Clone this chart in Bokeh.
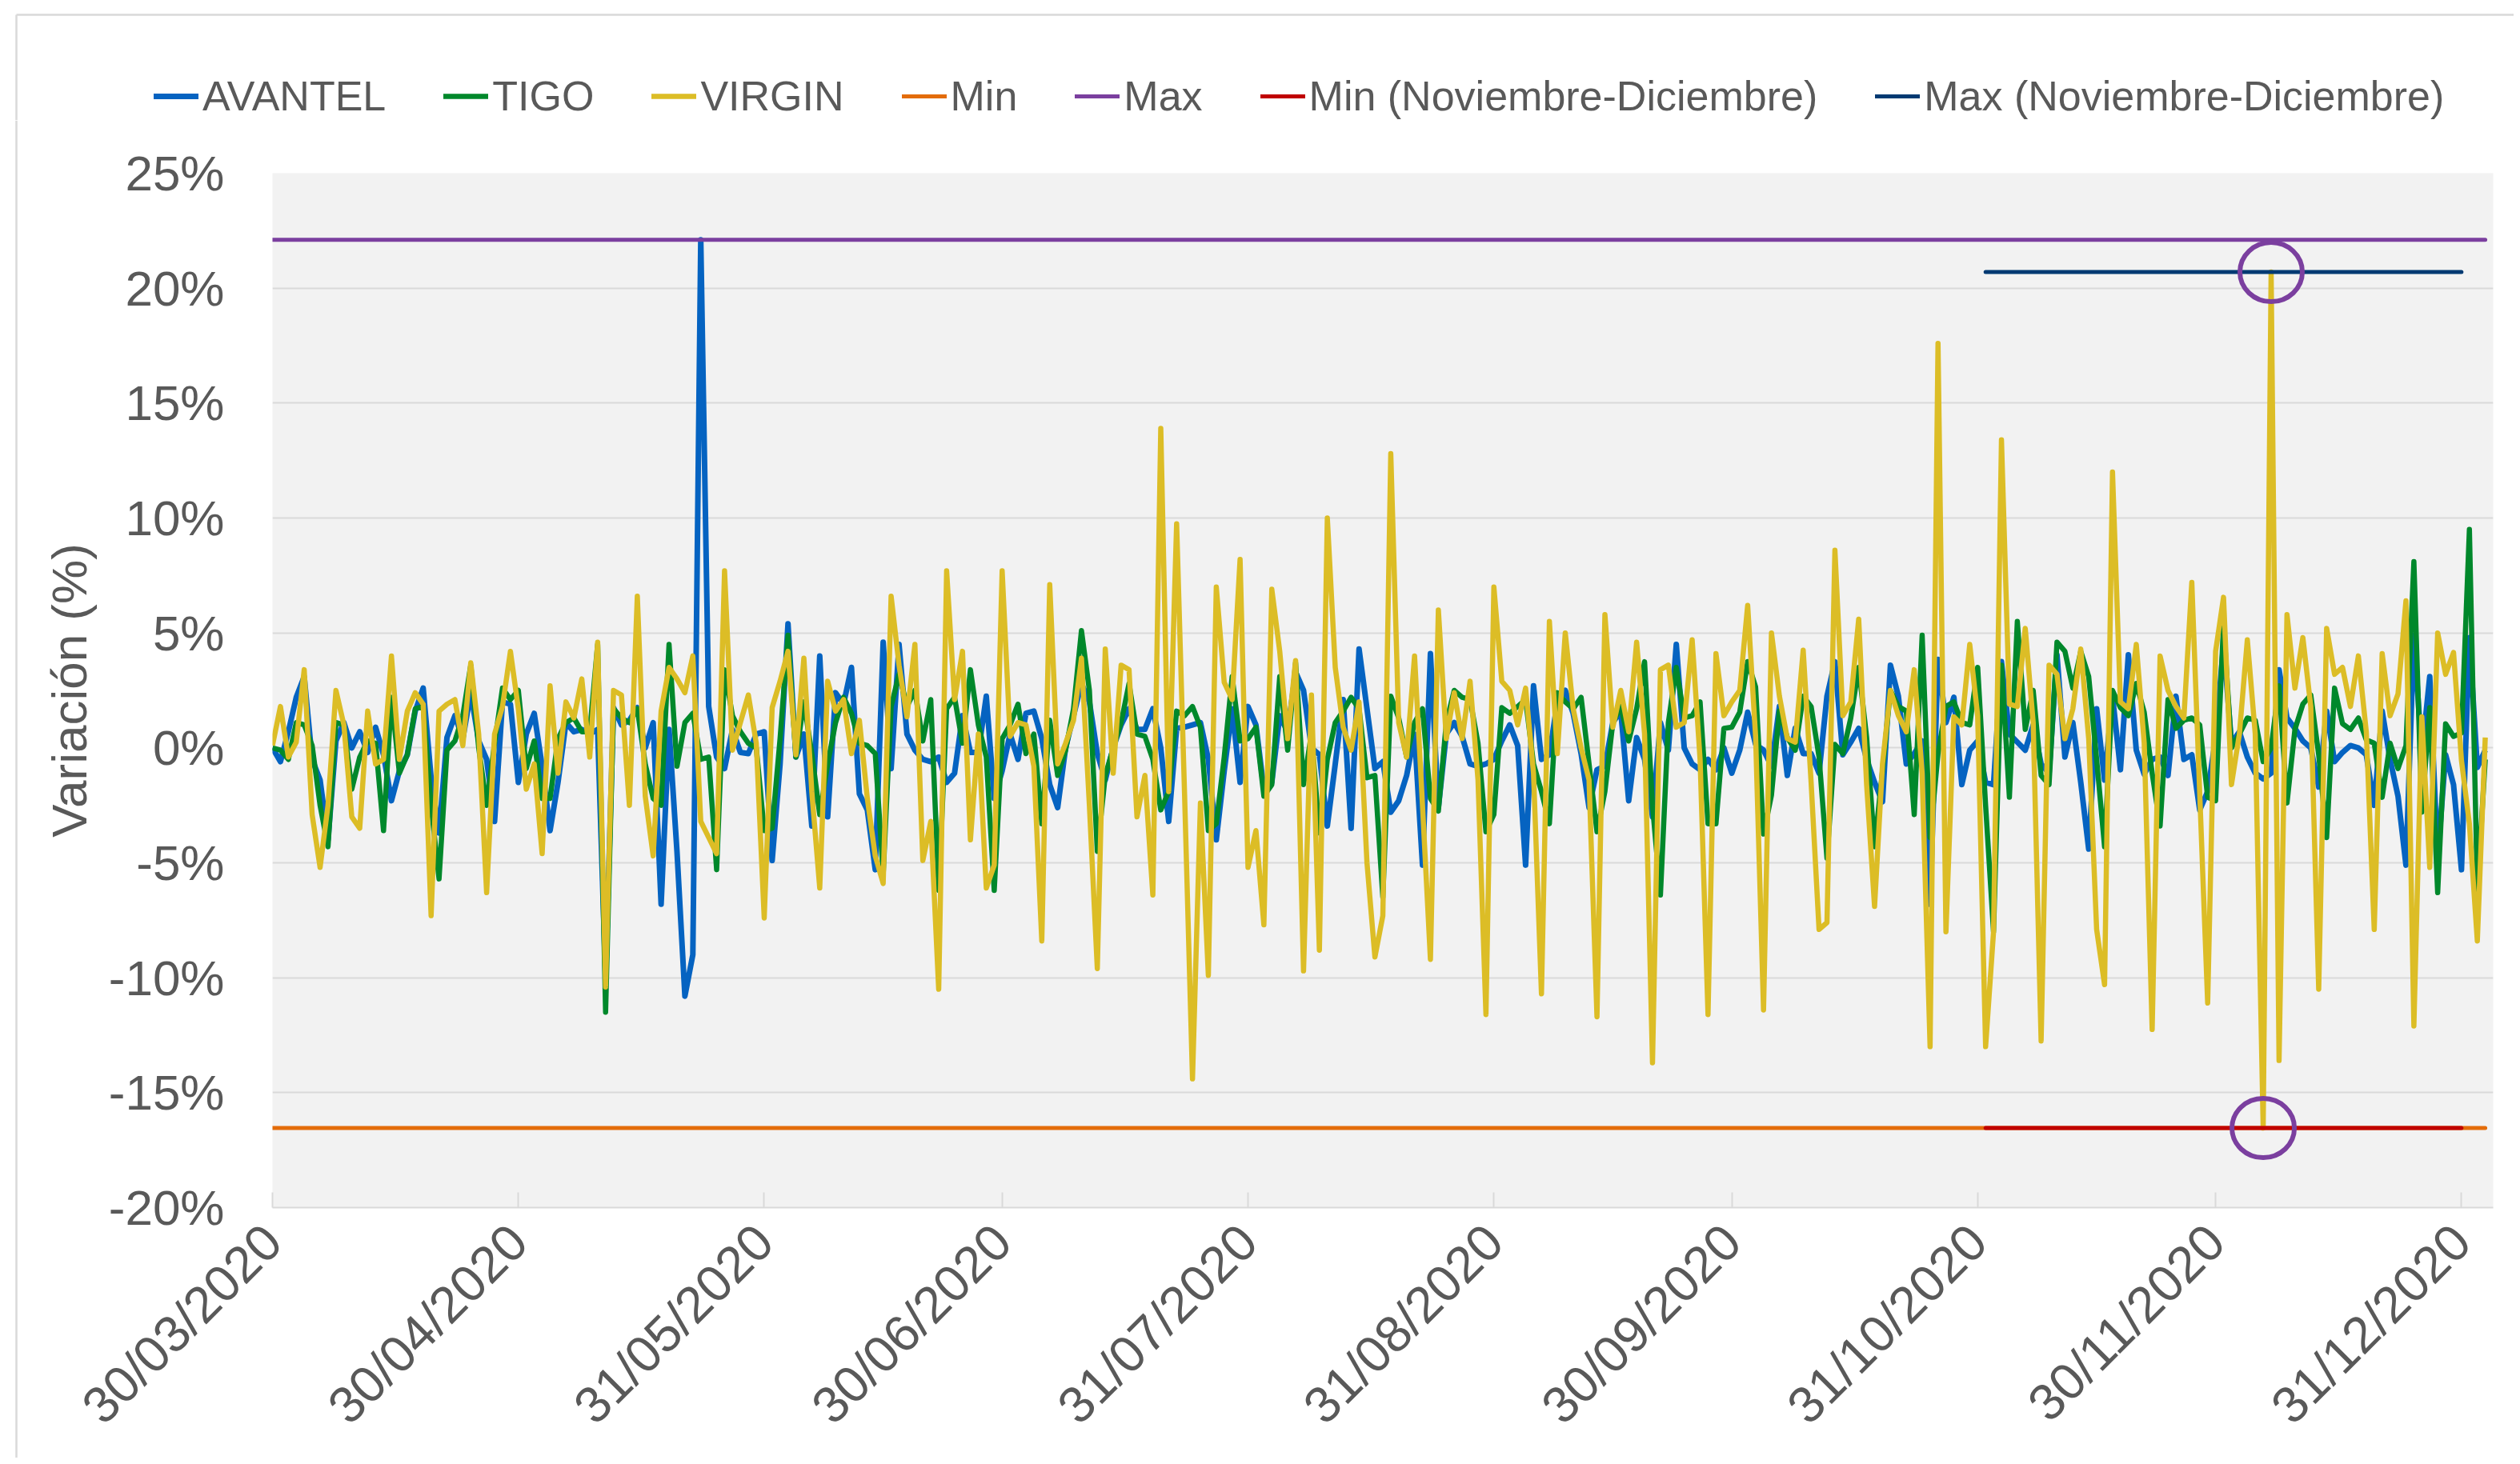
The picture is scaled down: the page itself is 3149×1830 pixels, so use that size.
import math
import datetime as dt
from bokeh.plotting import figure
from bokeh.layouts import column, row
from bokeh.models import Range1d, FixedTicker, PrintfTickFormatter, Legend, LegendItem
from bokeh.embed import file_html
from bokeh.resources import INLINE

# ---------------- data (daily variation, %) ----------------
start_date = dt.date(2020, 3, 30)

avantel = [
    0, -0.6, 0.7, 2.2, 3.1, -0.5, -1.4, -4.0, 0.3, 1.1,
    0, 0.7, -0.2, 0.9, -0.3, -2.3, -1.0, -0.3, 1.6, 2.6,
    -1.3, -3.7, 0.45, 1.4, 0.4, 2.4, 0.3, -0.5, -3.2, 2.0,
    1.9, -1.5, 0.6, 1.5, -0.8, -3.6, -1.5, 1.1, 0.7, 0.8,
    0.6, 0.8, -10.0, 1.75, 1.0, 1.2, 1.75, 0, 1.1, -6.8,
    0.8, -4.5, -10.8, -9.0, 22.1, 1.8, -0.4, -0.9, 0.8, -0.2,
    -0.25, 0.6, 0.7, -4.9, -0.7, 5.4, -0.4, 0.6, -3.4, 4.0,
    -3.0, 2.4, 1.9, 3.5, -2.0, -2.7, -5.3, 4.6, -0.9, 4.5,
    0.6, -0.1, -0.5, -0.6, -0.4, -1.5, -1.1, 1.4, -0.2, -0.2,
    2.25, -2.2, -1.0, 0.6, -0.5, 1.5, 1.6, 0.4, -1.6, -2.6,
    0, 1.4, 2.8, 2.0, -0.25, -1.4, 0, 1.0, 1.7, 0.8,
    0.8, 1.7, 0, -3.2, 0.85, 0.9, 1.0, 1.1, -0.5, -4.0,
    -1.0, 1.7, -1.5, 1.8, 1.0, -1.8, -1.5, 1.4, 0.7, 3.3,
    2.5, 0, -0.3, -3.4, -0.7, 2.1, -3.5, 4.3, 1.7, -0.9,
    -0.6, -2.8, -2.3, -1.2, 0.6, -5.1, 4.1, -2.6, 0.6, 1.1,
    0.5, -0.7, -0.8, -0.7, -0.5, 0.3, 1.0, 0.1, -5.1, 2.7,
    -0.5, -0.3, 2.0, 2.5, 1.5, -0.25, -2.6, -0.95, -0.8, 1.1,
    1.6, -2.3, 0.45, -0.5, -3.0, 1.1, -0.1, 4.5, 0, -0.7,
    -0.95, -0.5, -0.95, 0, -1.1, -0.1, 1.55, 0.15, -0.1, -0.8,
    1.8, -1.2, 0.85, -0.25, -0.25, -1.1, 2.25, 3.75, -0.3, 0.25,
    0.85, -0.5, -1.5, -2.35, 3.6, 2.25, -0.7, -0.25, 0.3, -6.8,
    3.85, 1.1, 2.2, -1.6, -0.1, 0.3, -1.5, -1.6, 3.75, 0.6,
    0.25, -0.1, 1.0, -0.7, -1.1, 4.05, -0.4, 1.1, -1.5, -4.4,
    1.7, -1.4, 2.25, -0.95, 4.05, -0.1, -1.15, -0.5, -0.4, -1.2,
    2.25, -0.5, -0.3, -2.7, -1.9, 0.4, 4.5, 0.2, 0.7, -0.4,
    -1.1, -1.35, -1.1, 3.4, 1.3, 0.85, 0.3, 0, -1.7, 1.6,
    -0.6, -0.2, 0.1, 0, -0.3, -2.5, 1.6, -0.5, -2.1, -5.1,
    4.9, -0.3, 3.1, -4.8, -0.3, -1.6, -5.3, 4.8, -0.85, -0.1,
]

tigo = [
    0, -0.1, -0.5, 1.1, 1.0, 0.1, -2.5, -4.3, 1.1, 1.0,
    -1.8, -0.4, 0.3, 0.2, -3.6, 2.2, -1.1, -0.3, 1.7, 1.8,
    -2.5, -5.7, -0.1, 0.3, 1.4, 3.6, 0, -2.5, 0.2, 2.6,
    2.1, 2.5, -0.9, 0.3, -2.2, -2.2, 0.4, 1.1, 1.3, 0.7,
    0.7, 4.5, -11.5, 1.7, 1.3, 1.1, 1.7, -0.7, -2.2, -2.5,
    4.5, -0.8, 1.1, 1.5, -0.5, -0.4, -5.3, 3.4, 1.4, 0.7,
    0.2, 0, -3.6, -3.5, 0.4, 4.9, -0.4, 2.0, -0.25, -2.9,
    -0.7, 1.1, 2.2, 1.5, 0.2, 0.1, -0.25, -5.5, 1.8, 3.2,
    1.8, 2.5, 0.3, 2.1, -6.2, 1.7, 2.2, 0.2, 3.4, 1.0,
    -0.4, -6.2, 0.4, 1.0, 1.9, -0.25, 0.6, -3.3, 1.2, -1.2,
    -0.1, 1.7, 5.1, 2.5, -4.5, -1.2, 0, 1.1, 2.8, 0.6,
    0.5, -0.5, -2.7, -1.9, 1.6, 1.4, 1.8, 0.9, -3.6, -3.3,
    -0.4, 3.1, 0.3, 0.4, 0.9, -2.1, -1.6, 3.1, -0.1, 3.7,
    -1.6, 0.6, -3.7, -0.5, 1.1, 1.6, 2.2, 1.7, -1.3, -1.2,
    -6.5, 2.25, 1.3, -0.4, 1.1, 1.7, -2.2, -2.75, 1.1, 2.5,
    2.2, 2.1, 0.2, -3.65, -2.9, 1.75, 1.5, 1.8, 2.1, -0.7,
    -1.9, -3.3, 2.4, 2.0, 1.7, 2.2, -0.7, -3.65, -1.9, 1.1,
    1.8, 0.3, 1.7, 3.75, -2.5, -6.4, 1.1, 3.5, 1.3, 1.4,
    2.0, -3.3, -3.3, 0.85, 0.9, 1.55, 3.75, 2.65, -3.75, -2.05,
    1.6, 0.45, -0.1, 2.25, 1.8, -0.4, -4.8, 0.15, -0.25, 1.3,
    3.5, 0.45, -4.3, -1.0, 2.5, 1.8, 1.6, -2.9, 4.9, -3.9,
    -0.25, 1.8, 2.0, 1.1, 1.0, 3.5, -2.5, -8.0, 3.6, -2.15,
    5.5, 0.8, 2.5, -1.2, -1.6, 4.6, 4.2, 2.6, 4.2, 3.1,
    -0.5, -4.3, 2.5, 1.75, 1.4, 2.8, 1.55, -1.1, -3.4, 2.1,
    0.85, 1.2, 1.3, 1.0, -2.15, -2.3, 5.4, 0, 0.6, 1.3,
    1.2, -0.6, 0, 2.7, -2.4, 0.8, 1.9, 2.3, -0.3, -3.9,
    2.6, 1.05, 0.8, 1.3, 0.35, 0.2, -2.15, 0.2, -0.9, 0.1,
    8.1, -2.8, 1.75, -6.3, 1.05, 0.5, 0.65, 9.5, -6.2, -0.5,
]

virgin = [
    0.1, 1.8, -0.4, 0.25, 3.4, -2.9, -5.2, -2.5, 2.5, 1.0,
    -3.0, -3.5, 1.6, -0.7, -0.5, 4.0, -0.5, 1.6, 2.4, 1.9,
    -7.3, 1.6, 1.9, 2.1, 0.1, 3.7, 0.6, -6.3, 0.6, 1.8,
    4.2, 1.7, -1.8, -0.7, -4.6, 2.7, -1.1, 2.0, 1.3, 3.0,
    -0.4, 4.6, -10.4, 2.5, 2.3, -2.5, 6.6, -2.1, -4.7, 1.6,
    3.5, 3.0, 2.4, 4.0, -3.2, -3.9, -4.6, 7.7, -0.1, 1.1,
    2.3, 0.2, -7.4, 1.75, 2.9, 4.2, -0.3, 3.9, -1.9, -6.1,
    2.9, 1.6, 2.1, -0.25, 1.2, -2.2, -4.7, -5.9, 6.6, 3.6,
    1.35, 4.5, -4.9, -3.2, -10.5, 7.7, 2.1, 4.2, -4.0, 0.6,
    -6.1, -5.1, 7.7, 0.5, 1.1, 1.0, -0.8, -8.4, 7.1, -0.7,
    0.2, 1.2, 3.9, -2.5, -9.6, 4.3, -1.1, 3.6, 3.4, -3.0,
    -1.2, -6.4, 13.9, -1.9, 9.75, -2.0, -14.4, -2.4, -9.9, 7.0,
    2.85, 2.1, 8.2, -5.2, -3.6, -7.7, 6.9, 4.2, 0.4, 3.8,
    -9.7, 2.3, -8.8, 10.0, 3.5, 0.9, -0.1, 2.0, -5.0, -9.1,
    -7.3, 12.8, 1.1, -0.4, 4.0, -2.5, -9.2, 6.0, 0.4, 2.4,
    0.4, 2.9, -1.4, -11.6, 7.0, 2.9, 2.5, 1.0, 2.6, -1.1,
    -10.7, 5.5, -0.25, 5.0, 1.7, 0.0, -1.4, -11.7, 5.8, 0.9,
    2.5, 0.7, 4.6, 0.6, -13.7, 3.4, 3.6, 0.9, 1.1, 4.7,
    -0.5, -11.6, 4.1, 1.4, 2.0, 2.5, 6.2, 0.5, -11.4, 5.0,
    2.25, 0.4, 0.25, 4.25, -1.5, -7.9, -7.6, 8.6, 1.4, 2.0,
    5.6, -1.6, -6.9, -0.7, 2.5, 1.4, 0.7, 3.4, -1.1, -13.0,
    17.6, -8.0, 1.35, 1.0, 4.5, 1.4, -13.0, -8.0, 13.4, 1.9,
    1.8, 5.2, 1.1, -12.75, 3.6, 3.2, 0.4, 1.7, 4.3, 0.4,
    -7.9, -10.3, 12.0, 2.0, 1.7, 4.5, 0.2, -12.25, 4.0, 2.5,
    1.8, 1.3, 7.2, -2.0, -11.1, 4.2, 6.55, -1.6, 0.6, 4.7,
    0.6, -16.54, 20.7, -13.6, 5.8, 2.6, 4.8, 1.8, -10.5, 5.2,
    3.2, 3.5, 1.8, 4.0, 0.7, -7.9, 4.1, 1.4, 2.35, 6.4,
    -12.1, 1.35, -5.2, 5.0, 3.2, 4.15, -0.55, -3.3, -8.4, 0.45,
]

series_names = ["AVANTEL", "TIGO", "VIRGIN"]
series_colors = ["#0563C1", "#00882B", "#DCBD26"]
ref_names = ["Min", "Max", "Min (Noviembre-Diciembre)", "Max (Noviembre-Diciembre)"]
ref_colors = ["#E36C0A", "#7B3F9F", "#C00000", "#003A72"]

tick_labels = ["30/03/2020", "30/04/2020", "31/05/2020", "30/06/2020", "31/07/2020",
               "31/08/2020", "30/09/2020", "31/10/2020", "30/11/2020", "31/12/2020"]
y_ticks = [-20, -15, -10, -5, 0, 5, 10, 15, 20, 25]

assert len(avantel) == len(tigo) == len(virgin), (len(avantel), len(tigo), len(virgin))

# ---------------- derived values ----------------
n = len(virgin)
x = list(range(n))
dates = [start_date + dt.timedelta(days=i) for i in range(n)]
tick_pos = [(dt.datetime.strptime(s, "%d/%m/%Y").date() - start_date).days for s in tick_labels]

all_series = [avantel, tigo, virgin]
v_min = min(min(s) for s in all_series)
v_max = max(max(s) for s in all_series)

nd_idx = [i for i, d in enumerate(dates) if d.year == 2020 and d.month in (11, 12)]
nd_min, nd_min_i = min((s[i], i) for s in all_series for i in nd_idx)
nd_max, nd_max_i = max((s[i], i) for s in all_series for i in nd_idx)

FONT = "Liberation Sans"
TXT = "#595959"
BORDER = "#D9D9D9"
DATA_W = [7, 6.5, 6.5]
REF_W = 5

PAGE_W = 3141
TOP_H = 150      # legend band
STRIP_W = 22     # left band holding the chart-area border
MAIN_H = 1822 - TOP_H
FRAME_TOP = 216
FRAME_BOTTOM = 1509


def blank_fig(w, h):
    f = figure(width=w, height=h, output_backend="svg", toolbar_location=None,
               x_range=Range1d(0, w), y_range=Range1d(h, 0),
               min_border_left=0, min_border_right=0, min_border_top=0, min_border_bottom=0,
               background_fill_color="white", border_fill_color="white", outline_line_color=None)
    f.axis.visible = False
    f.grid.grid_line_color = None
    try:
        f.frame_align = False
    except Exception:
        pass
    return f


# ---------------- legend band (top) ----------------
top = blank_fig(PAGE_W, TOP_H)
top.line([20, PAGE_W], [18, 18], line_color=BORDER, line_width=2.5)
top.line([20, 20], [18, TOP_H], line_color=BORDER, line_width=2.5)

leg_items = []
for nm, col, lw in zip(series_names + ref_names, series_colors + ref_colors,
                       DATA_W + [REF_W] * 4):
    # legend swatch renderers (kept outside the visible range of this band)
    rr = top.line([-200, -100], [-50, -50], line_color=col, line_width=lw, line_cap="round")
    leg_items.append(LegendItem(label=nm, renderers=[rr]))

legend = Legend(items=leg_items, orientation="horizontal", location=(192, TOP_H - 150),
                label_text_font=FONT, label_text_font_size="52px", label_text_color=TXT,
                glyph_width=56, glyph_height=60, label_height=60, label_standoff=5,
                spacing=72, padding=0, margin=0,
                border_line_color=None, background_fill_alpha=0)
top.add_layout(legend)

# ---------------- left strip with border ----------------
strip = blank_fig(STRIP_W, MAIN_H)
strip.line([20, 20], [0, MAIN_H], line_color=BORDER, line_width=2.5)

# ---------------- main chart ----------------
p = figure(width=PAGE_W - STRIP_W, height=MAIN_H, output_backend="svg", toolbar_location=None,
           x_range=Range1d(0, n), y_range=Range1d(-20, 25),
           min_border_left=340 - STRIP_W, min_border_right=26,
           min_border_top=FRAME_TOP - TOP_H,
           min_border_bottom=1822 - FRAME_BOTTOM,
           background_fill_color="#F2F2F2", border_fill_color="white", outline_line_color=None)
try:
    p.frame_align = False
except Exception:
    pass

p.xgrid.grid_line_color = None
p.ygrid.ticker = FixedTicker(ticks=y_ticks)
p.ygrid.grid_line_color = BORDER
p.ygrid.grid_line_width = 2

p.yaxis.ticker = FixedTicker(ticks=y_ticks)
p.yaxis.formatter = PrintfTickFormatter(format="%d%%")
p.yaxis.axis_line_color = None
p.yaxis.major_tick_line_color = None
p.yaxis.minor_tick_line_color = None
p.yaxis.major_label_standoff = 54
p.yaxis.major_label_text_font = FONT
p.yaxis.major_label_text_font_size = "62px"
p.yaxis.major_label_text_color = TXT
p.yaxis.axis_label = "Variación (%)"
p.yaxis.axis_label_text_font = FONT
p.yaxis.axis_label_text_font_size = "62px"
p.yaxis.axis_label_text_font_style = "normal"
p.yaxis.axis_label_text_color = TXT
p.yaxis.axis_label_standoff = 12

p.xaxis.ticker = FixedTicker(ticks=tick_pos)
p.xaxis.major_label_overrides = {t: l for t, l in zip(tick_pos, tick_labels)}
p.xaxis.major_label_orientation = math.pi / 4
p.xaxis.major_label_text_font = FONT
p.xaxis.major_label_text_font_size = "64px"
p.xaxis.major_label_text_color = TXT
p.xaxis.major_label_standoff = 32
p.xaxis.axis_line_color = BORDER
p.xaxis.axis_line_width = 2
p.xaxis.major_tick_in = 19
p.xaxis.major_tick_out = 0
p.xaxis.major_tick_line_color = BORDER
p.xaxis.major_tick_line_width = 2
p.xaxis.minor_tick_line_color = None

for vals, col, lw in zip(all_series, series_colors, DATA_W):
    p.line(x, vals, line_color=col, line_width=lw, line_join="round")

p.line([x[0], x[-1]], [v_min, v_min], line_color=ref_colors[0], line_width=REF_W, line_cap="round")
p.line([x[0], x[-1]], [v_max, v_max], line_color=ref_colors[1], line_width=REF_W, line_cap="round")
p.line([nd_idx[0], nd_idx[-1]], [nd_min, nd_min], line_color=ref_colors[2], line_width=REF_W, line_cap="round")
p.line([nd_idx[0], nd_idx[-1]], [nd_max, nd_max], line_color=ref_colors[3], line_width=REF_W, line_cap="round")

# highlight circles around the Nov-Dec extremes
p.ellipse(x=[nd_max_i, nd_min_i], y=[nd_max, nd_min], width=78, height=74,
          width_units="screen", height_units="screen",
          fill_color=None, line_color=ref_colors[1], line_width=6)

layout = column(top, row(strip, p, spacing=0), spacing=0)
open("out.html", "w").write(file_html(layout, INLINE))
